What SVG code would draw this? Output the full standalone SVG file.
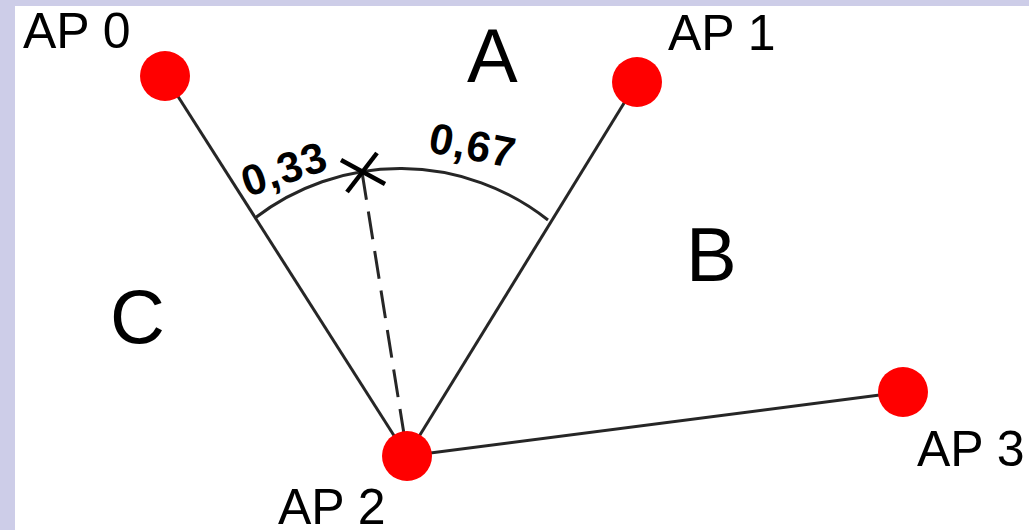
<svg xmlns="http://www.w3.org/2000/svg" width="1029" height="530" viewBox="0 0 1029 530">
<style>
.ap{fill:#ff0000}
.ln{stroke:#262626;stroke-width:3;fill:none}
.lbl{font-family:"Liberation Sans",Arial,sans-serif;font-size:50px;fill:#000}
.big{font-family:"Liberation Sans",Arial,sans-serif;font-size:76px;fill:#000}
.num{font-family:"Liberation Sans",Arial,sans-serif;font-size:43px;font-weight:bold;fill:#000;letter-spacing:1px}
</style>
<rect x="0" y="0" width="1029" height="530" fill="#cdcde8"/>
<rect x="15" y="6" width="1014" height="524" fill="#ffffff"/>
<g id="connectors">
<line class="ln" x1="165" y1="76" x2="407" y2="456"/>
<line class="ln" x1="637" y1="82" x2="407" y2="456"/>
<line class="ln" x1="407" y1="456" x2="903" y2="392"/>
<line class="ln" x1="362" y1="172" x2="404" y2="434" stroke-dasharray="28 12"/>
<path class="ln" d="M 255 218 A 238 238 0 0 1 548 220"/>
</g>
<g id="cross">
<line x1="341" y1="160" x2="385" y2="184" stroke="#000" stroke-width="4.5"/>
<line x1="377" y1="153" x2="347" y2="192" stroke="#000" stroke-width="4.5"/>
</g>
<g id="ap0"><circle class="ap" cx="165" cy="76" r="25"/><text class="lbl" x="23" y="48">AP 0</text></g>
<g id="ap1"><circle class="ap" cx="637" cy="82" r="25"/><text class="lbl" x="668" y="50">AP 1</text></g>
<g id="ap2"><circle class="ap" cx="407" cy="456" r="25"/><text class="lbl" x="278" y="524">AP 2</text></g>
<g id="ap3"><circle class="ap" cx="903" cy="392" r="25"/><text class="lbl" x="917" y="466">AP 3</text></g>
<g id="regions">
<text class="big" x="467" y="82">A</text>
<text class="big" x="686" y="281">B</text>
<text class="big" x="110" y="343">C</text>
</g>
<g id="values">
<text class="num" text-anchor="middle" transform="translate(289,183) rotate(-19)">0,33</text>
<text class="num" text-anchor="middle" transform="translate(470,160) rotate(11)">0,67</text>
</g>
</svg>
